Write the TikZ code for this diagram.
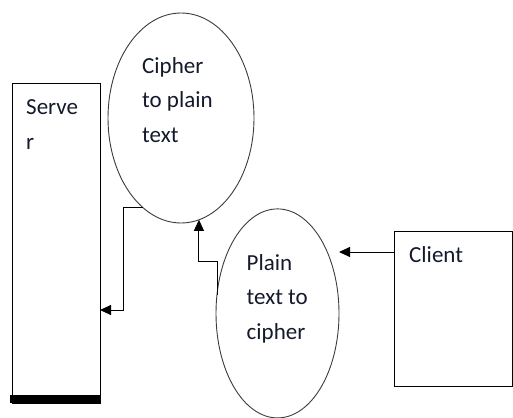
\documentclass[tikz,border=0pt]{standalone}
\usepackage{fontspec}
\setmainfont{Carlito}
\usepackage{xcolor}
\usepackage{tikz}
\usetikzlibrary{arrows.meta, positioning, shapes.geometric}

\definecolor{inkblue}{RGB}{20,26,44}
\definecolor{rimgray}{RGB}{60,60,60}

\begin{document}
\begin{tikzpicture}[x=1pt,y=-1pt,>={Triangle[length=11pt,width=10pt]},
        box/.style={draw=black, line width=0.9pt, rectangle, inner sep=0pt, outer sep=0pt},
        oval/.style={draw=rimgray, line width=0.9pt, ellipse, inner sep=0pt, outer sep=0pt},
        lbl/.style={anchor=north west, inner sep=0pt, align=left, text=inkblue,
                    font=\fontsize{23}{34.5}\selectfont}]
      \useasboundingbox (0,0) rectangle (513,417);

      \node[box, minimum width=88pt, minimum height=320pt]  (srv) at (56,243)   {};
      \node[box, minimum width=118pt, minimum height=155pt] (cli) at (453,308.5) {};
      \node[oval, minimum width=146pt, minimum height=210pt] (dec) at (181,118) {};
      \node[oval, minimum width=123pt, minimum height=209pt] (enc) at (277.5,313.4) {};

      \node[lbl] (srvtxt) at (26,99.5)  {Serve\\r};
      \node[lbl] (dectxt) at (142,57)   {Cipher\\to plain\\text};
      \node[lbl] (enctxt) at (246.5,254) {Plain\\text to\\cipher};
      \node[lbl] (clitxt) at (409,246)  {Client};

      \draw[line width=8pt] ([xshift=-2pt,yshift=4pt]srv.south west) -- ([yshift=4pt]srv.south east);

      \draw[->, line width=0.9pt] ([yshift=56.5pt]cli.west) coordinate (cport) -- (cport -| enc.east);
      \draw[->, line width=0.9pt] (enc.163) -- ++(0,-33) -| (dec.280);
      \draw[->, line width=0.9pt] (dec.247) -- ++(-20,0) |- ([yshift=-67pt]srv.east);
\end{tikzpicture}
\end{document}
